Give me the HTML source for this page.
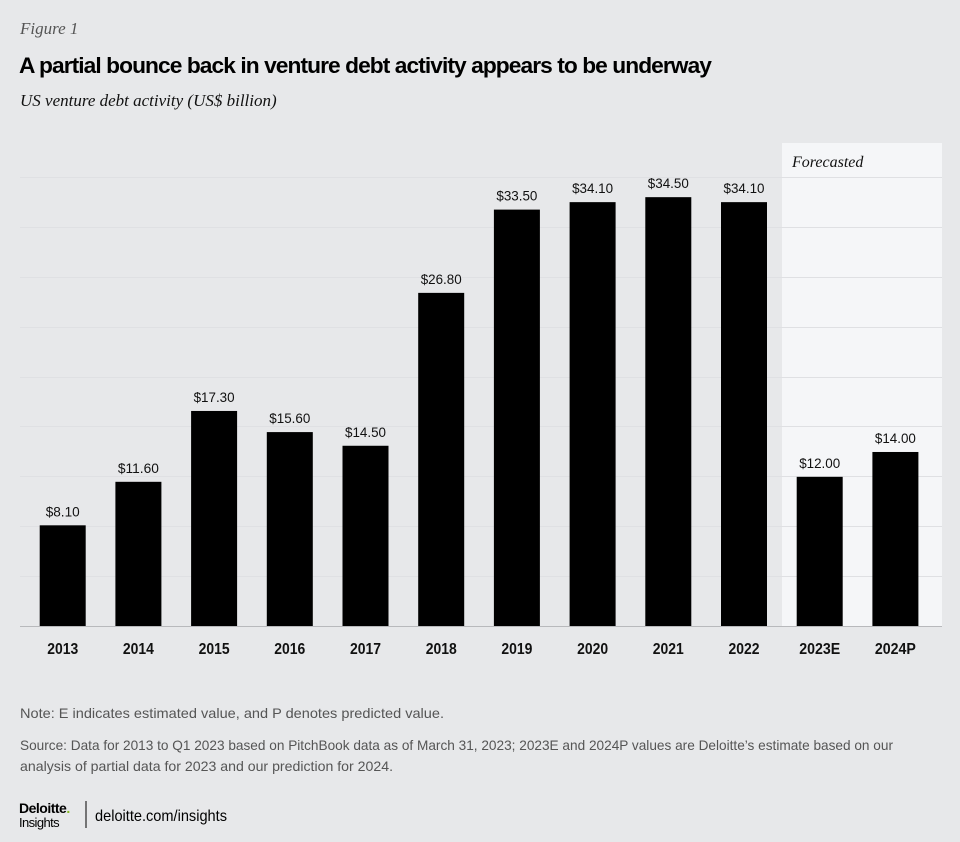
<!DOCTYPE html>
<html><head><meta charset="utf-8"><style>
body{margin:0;background:#e7e8ea;}
svg{display:block}
</style></head><body>
<svg width="960" height="842" xmlns="http://www.w3.org/2000/svg">
<rect width="960" height="842" fill="#e7e8ea"/>
<text x="20" y="34" font-family="Liberation Serif, serif" font-style="italic" font-size="17" fill="#555">Figure 1</text>
<text x="19" y="73" font-family="Liberation Sans, sans-serif" font-weight="bold" font-size="22" fill="#000" letter-spacing="-0.9" textLength="692" lengthAdjust="spacingAndGlyphs">A partial bounce back in venture debt activity appears to be underway</text>
<text x="20" y="106" font-family="Liberation Serif, serif" font-style="italic" font-size="17" fill="#111">US venture debt activity (US$ billion)</text>
<rect x="782" y="143" width="160" height="483" fill="#f5f6f8"/>
<text x="792" y="167" font-family="Liberation Serif, serif" font-style="italic" font-size="16" fill="#111">Forecasted</text>
<g stroke="#dfe0e3" stroke-width="1">
<line x1="20" x2="942" y1="177.5" y2="177.5"/><line x1="20" x2="942" y1="227.5" y2="227.5"/>
<line x1="20" x2="942" y1="277.5" y2="277.5"/><line x1="20" x2="942" y1="327.5" y2="327.5"/>
<line x1="20" x2="942" y1="377.5" y2="377.5"/><line x1="20" x2="942" y1="426.5" y2="426.5"/>
<line x1="20" x2="942" y1="476.5" y2="476.5"/><line x1="20" x2="942" y1="526.5" y2="526.5"/>
<line x1="20" x2="942" y1="576.5" y2="576.5"/>
</g>
<g id="bars" fill="#000" font-family="Liberation Sans, sans-serif" font-size="14" text-anchor="middle"></g>
<line x1="20" x2="942" y1="626.5" y2="626.5" stroke="#b8b9bc" stroke-width="1"/>
<g id="lbl" font-family="Liberation Sans, sans-serif" font-weight="bold" font-size="16" text-anchor="middle" fill="#111"></g>
<text x="20" y="718" font-family="Liberation Sans, sans-serif" font-size="14" fill="#555" textLength="424" lengthAdjust="spacingAndGlyphs">Note: E indicates estimated value, and P denotes predicted value.</text>
<text x="20" y="750" font-family="Liberation Sans, sans-serif" font-size="14" fill="#555" textLength="873" lengthAdjust="spacingAndGlyphs">Source: Data for 2013 to Q1 2023 based on PitchBook data as of March 31, 2023; 2023E and 2024P values are Deloitte’s estimate based on our</text>
<text x="20" y="771" font-family="Liberation Sans, sans-serif" font-size="14" fill="#555" textLength="373" lengthAdjust="spacingAndGlyphs">analysis of partial data for 2023 and our prediction for 2024.</text>
<text x="19" y="813" font-family="Liberation Sans, sans-serif" font-weight="bold" font-size="14" fill="#000" letter-spacing="-0.5">Deloitte<tspan fill="#86bc25">.</tspan></text>
<text x="19" y="827" font-family="Liberation Sans, sans-serif" font-size="13" fill="#000" letter-spacing="-0.6">Insights</text>
<line x1="86" x2="86" y1="801" y2="828" stroke="#000" stroke-width="1"/>
<text x="95" y="821" font-family="Liberation Sans, sans-serif" font-size="16" fill="#000" textLength="132" lengthAdjust="spacingAndGlyphs">deloitte.com/insights</text>
</svg>
<script>
var d=[["2013",8.1],["2014",11.6],["2015",17.3],["2016",15.6],["2017",14.5],["2018",26.8],["2019",33.5],["2020",34.1],["2021",34.5],["2022",34.1],["2023E",12.0],["2024P",14.0]];
var ns="http://www.w3.org/2000/svg",b=document.getElementById("bars"),l=document.getElementById("lbl");
d.forEach(function(e,i){var c=62.7+75.7*i,h=e[1]*12.43,t=626-h;
var r=document.createElementNS(ns,"rect");r.setAttribute("x",c-23);r.setAttribute("y",t);r.setAttribute("width",46);r.setAttribute("height",h);b.appendChild(r);
var v=document.createElementNS(ns,"text");v.setAttribute("x",c);v.setAttribute("y",t-9);v.setAttribute("fill","#111");
var s="$"+e[1].toFixed(2);v.textContent=s;v.setAttribute("textLength",s.length==5?34:41);v.setAttribute("lengthAdjust","spacingAndGlyphs");b.appendChild(v);
var k=document.createElementNS(ns,"text");k.setAttribute("x",c);k.setAttribute("y",654);k.textContent=e[0];
k.setAttribute("textLength",e[0].length==4?31:41);k.setAttribute("lengthAdjust","spacingAndGlyphs");l.appendChild(k);});
</script>
</body></html>
